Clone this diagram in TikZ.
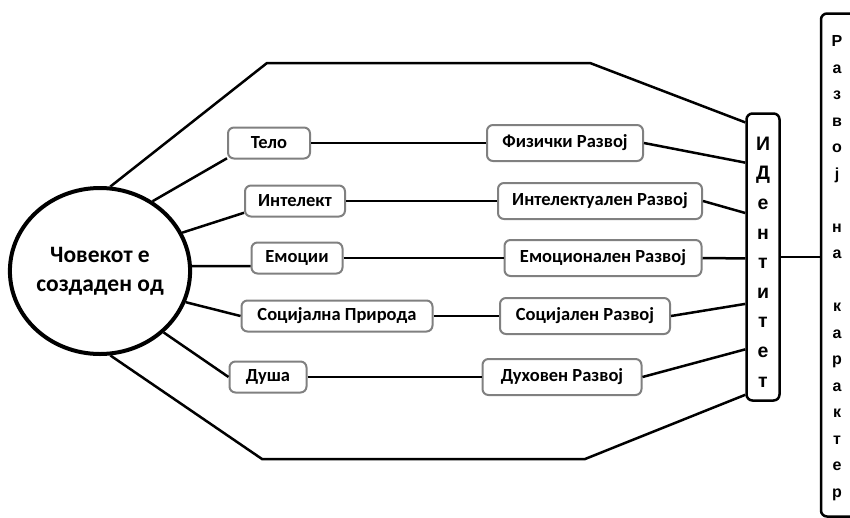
\documentclass[tikz,border=0pt]{standalone}
\usepackage{fontspec}
\setmainfont{Carlito}
\newfontfamily\arialfont{Liberation Sans Bold}
\usetikzlibrary{shapes.geometric,calc}

\tikzset{
  hub/.style={ellipse,draw,line width=4pt,inner sep=0pt,minimum width=178,
    minimum height=166,align=center,font=\fontsize{23.5}{29}\selectfont\bfseries},
  part/.style={draw=gray,line width=2pt,rounded corners=6pt,inner sep=0pt,
    minimum height=31,font=\fontsize{18.5}{21}\selectfont\bfseries},
  growth/.style={part,minimum height=36},
  column/.style={draw,line width=2.5pt,rounded corners=6pt,inner sep=0pt},
  letters/.style={inner sep=0pt,align=center},
  link/.style={line width=2.5pt},
}

\begin{document}
\begin{tikzpicture}[x=1pt,y=-1pt]
  \useasboundingbox (0,0) rectangle (850,517);
  \clip (0,0) rectangle (850,517);
  \node[hub] (human) at (100,271) {Човекот е\\создаден од};
  % what a person is made of
  \node[part,minimum width=82] (telo) at (269,143) {Тело};
  \node[part,minimum width=100] (intelekt) at (295,201) {Интелект};
  \node[part,minimum width=91] (emocii) at (297,258) {Емоции};
  \node[part,minimum width=191] (socijalna) at (337,316) {Социјална Природа};
  \node[part,minimum width=77] (dusa) at (268,377) {Душа};
  % growth of each part
  \node[growth,minimum width=156] (fizicki) at (565,143) {Физички Развој};
  \node[growth,minimum width=204] (intrazvoj) at (600,201) {Интелектуален Развој};
  \node[growth,minimum width=197] (emrazvoj) at (603,258) {Емоционален Развој};
  \node[growth,minimum width=170] (socrazvoj) at (585,316) {Социјален Развој};
  \node[growth,minimum width=159] (duhrazvoj) at (562,377) {Духовен Развој};
  \node[column,minimum width=33,minimum height=287] (identitet) at (763,257) {};
  \node[letters,font=\fontsize{19.5}{29.6}\selectfont\arialfont]
    (identitettxt) at (763,262) {И\\Д\\е\\н\\т\\и\\т\\е\\т};
  \node[column,minimum width=48,minimum height=503] (karakter) at (845,265) {};
  \node[letters,font=\fontsize{16}{26.5}\selectfont\arialfont]
    (karaktertxt) at (837,268)
    {Р\\а\\з\\в\\о\\ј\\\mbox{}\\н\\а\\\mbox{}\\к\\а\\р\\а\\к\\т\\е\\р};

  \foreach \n/\f in {0/0.035,1/0.174,2/0.348,3/0.505,4/0.662,5/0.819,6/0.976}
    \coordinate (id\n) at ($(identitet.north west)!\f!(identitet.south west)$);

  \draw[link] (human.53) -- (telo.200);
  \draw[link] (human.25) -- (intelekt.193);
  \draw[link] (human.3) -- (emocii.190);
  \draw[link] (human.-20) -- (socijalna.west);
  \draw[link] (human.-44) -- (dusa.west);
  \foreach \a/\b in {telo/fizicki,intelekt/intrazvoj,emocii/emrazvoj,
      socijalna/socrazvoj,dusa/duhrazvoj}
    \draw[link] (\a.east) -- (\b.west);
  \draw[link] (fizicki.east) -- (id1);
  \draw[link] (intrazvoj.east) -- (id2);
  \draw[link] (emrazvoj.east) -- (id3);
  \draw[link] (socrazvoj.east) -- (id4);
  \draw[link] (duhrazvoj.east) -- (id5);
  % outer frame round the parts
  \draw[link] (human.83) -- (267,63) -- (590,63) -- (id0);
  \draw[link] (human.-83) -- (262,459) -- (585,459) -- (id6);
  \draw[link] (identitet.east) -- (karakter.west |- identitet.east);
\end{tikzpicture}
\end{document}
